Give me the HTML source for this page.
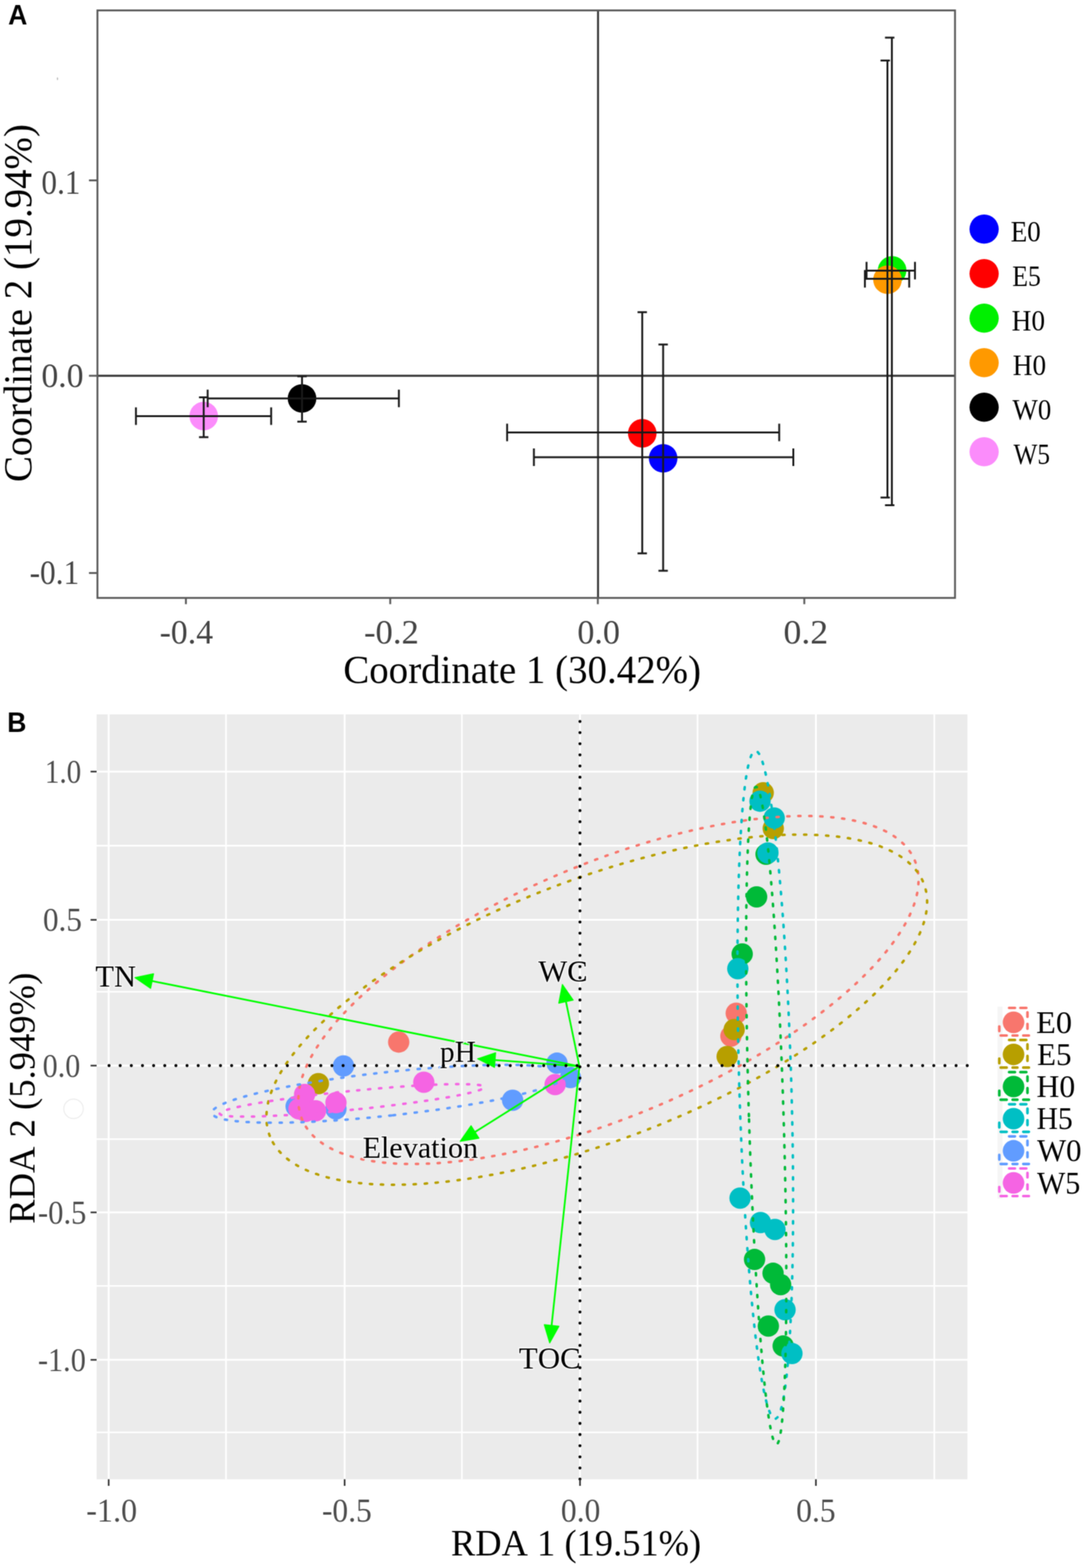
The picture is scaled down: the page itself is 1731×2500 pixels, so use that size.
<!DOCTYPE html>
<html><head><meta charset="utf-8"><title>Figure</title>
<style>html,body{margin:0;padding:0;background:#fff;overflow:hidden}svg text{font-kerning:none}</style>
</head><body>
<svg width="1731" height="2500" viewBox="0 0 1731 2500" style="display:block">
<defs><filter id="soft" x="0" y="0" width="1" height="1" color-interpolation-filters="sRGB"><feConvolveMatrix order="3" kernelMatrix="1 2 1 2 6 2 1 2 1" divisor="18" edgeMode="duplicate"/></filter></defs>
<g filter="url(#soft)">
<rect width="1731" height="2500" fill="#fff"/>
<line x1="953.2" y1="16.6" x2="953.2" y2="953.3" stroke="#333" stroke-width="3.1"/>
<line x1="155.3" y1="599.1" x2="1522.2" y2="599.1" stroke="#333" stroke-width="3.1"/>
<circle cx="324.7" cy="663.4" r="22.8" fill="#fb8cfb"/>
<circle cx="481.4" cy="635.2" r="22.8" fill="#000000"/>
<circle cx="1023.7" cy="690.9" r="22.8" fill="#ff0000"/>
<circle cx="1057.0" cy="730.7" r="22.8" fill="#0000ff"/>
<circle cx="1422.0" cy="431.0" r="22.8" fill="#00f000"/>
<circle cx="1414.6" cy="446.0" r="22.8" fill="#ff9900"/>
<path d="M216.7 663.4H432.2M216.7 649.4V677.4M432.2 649.4V677.4" stroke="#1a1a1a" stroke-width="3.0" fill="none"/>
<path d="M324.7 633.6V696.9M317.2 633.6H332.2M317.2 696.9H332.2" stroke="#1a1a1a" stroke-width="3.0" fill="none"/>
<path d="M331.0 635.2H635.8M331.0 621.2V649.2M635.8 621.2V649.2" stroke="#1a1a1a" stroke-width="3.0" fill="none"/>
<path d="M481.4 600.1V672.2M473.9 600.1H488.9M473.9 672.2H488.9" stroke="#1a1a1a" stroke-width="3.0" fill="none"/>
<path d="M808.3 689.5H1242.0M808.3 675.5V703.5M1242.0 675.5V703.5" stroke="#1a1a1a" stroke-width="3.0" fill="none"/>
<path d="M1023.7 497.7V882.2M1016.2 497.7H1031.2M1016.2 882.2H1031.2" stroke="#1a1a1a" stroke-width="3.0" fill="none"/>
<path d="M851.0 729.0H1264.5M851.0 715.0V743.0M1264.5 715.0V743.0" stroke="#1a1a1a" stroke-width="3.0" fill="none"/>
<path d="M1057.0 549.2V909.9M1049.5 549.2H1064.5M1049.5 909.9H1064.5" stroke="#1a1a1a" stroke-width="3.0" fill="none"/>
<path d="M1381.2 431.5H1458.4M1381.2 417.5V445.5M1458.4 417.5V445.5" stroke="#1a1a1a" stroke-width="3.0" fill="none"/>
<path d="M1421.6 60.0V805.4M1410.6 60.0H1425.6M1410.6 805.4H1425.6" stroke="#1a1a1a" stroke-width="3.0" fill="none"/>
<path d="M1378.6 444.5H1449.2M1378.6 430.5V458.5M1449.2 430.5V458.5" stroke="#1a1a1a" stroke-width="3.0" fill="none"/>
<path d="M1414.5 96.4V793.2M1403.5 96.4H1418.5M1403.5 793.2H1418.5" stroke="#1a1a1a" stroke-width="3.0" fill="none"/>
<rect x="155.3" y="16.6" width="1366.9" height="936.6999999999999" fill="none" stroke="#5a5a5a" stroke-width="3"/>
<line x1="141.8" y1="287.6" x2="155.3" y2="287.6" stroke="#5a5a5a" stroke-width="3"/>
<line x1="141.8" y1="599.1" x2="155.3" y2="599.1" stroke="#5a5a5a" stroke-width="3"/>
<line x1="141.8" y1="913.6" x2="155.3" y2="913.6" stroke="#5a5a5a" stroke-width="3"/>
<line x1="296.3" y1="953.3" x2="296.3" y2="963.3" stroke="#5a5a5a" stroke-width="3"/>
<line x1="622.0" y1="953.3" x2="622.0" y2="963.3" stroke="#5a5a5a" stroke-width="3"/>
<line x1="952.9" y1="953.3" x2="952.9" y2="963.3" stroke="#5a5a5a" stroke-width="3"/>
<line x1="1282.0" y1="953.3" x2="1282.0" y2="963.3" stroke="#5a5a5a" stroke-width="3"/>
<text x="66.11" y="308.50" font-family="Liberation Serif" font-weight="normal" font-size="55.5" textLength="62.07" lengthAdjust="spacingAndGlyphs" fill="#444" >0.1</text>
<text x="65.95" y="617.00" font-family="Liberation Serif" font-weight="normal" font-size="55.5" textLength="67.30" lengthAdjust="spacingAndGlyphs" fill="#444" >0.0</text>
<text x="47.15" y="931.00" font-family="Liberation Serif" font-weight="normal" font-size="55.5" textLength="79.05" lengthAdjust="spacingAndGlyphs" fill="#444" >-0.1</text>
<text x="254.40" y="1025.80" font-family="Liberation Serif" font-weight="normal" font-size="55.5" textLength="85.14" lengthAdjust="spacingAndGlyphs" fill="#444" >-0.4</text>
<text x="580.15" y="1025.80" font-family="Liberation Serif" font-weight="normal" font-size="55.5" textLength="87.39" lengthAdjust="spacingAndGlyphs" fill="#444" >-0.2</text>
<text x="920.13" y="1025.80" font-family="Liberation Serif" font-weight="normal" font-size="55.5" textLength="68.05" lengthAdjust="spacingAndGlyphs" fill="#444" >0.0</text>
<text x="1248.83" y="1025.80" font-family="Liberation Serif" font-weight="normal" font-size="55.5" textLength="71.32" lengthAdjust="spacingAndGlyphs" fill="#444" >0.2</text>
<text x="547.26" y="1089.30" font-family="Liberation Serif" font-weight="normal" font-size="63.5" textLength="570.07" lengthAdjust="spacingAndGlyphs" fill="#000" >Coordinate 1 (30.42%)</text>
<text transform="rotate(-90)" x="-768.55" y="50.00" font-family="Liberation Serif" font-weight="normal" font-size="63.5" textLength="570.78" lengthAdjust="spacingAndGlyphs" fill="#000" >Coordinate 2 (19.94%)</text>
<circle cx="1568.6" cy="365.3" r="23.3" fill="#0000ff"/>
<text x="1610.96" y="384.60" font-family="Liberation Serif" font-weight="normal" font-size="47" textLength="47.99" lengthAdjust="spacingAndGlyphs" fill="#000" >E0</text>
<circle cx="1568.6" cy="436.3" r="23.3" fill="#ff0000"/>
<text x="1613.52" y="455.60" font-family="Liberation Serif" font-weight="normal" font-size="47" textLength="45.59" lengthAdjust="spacingAndGlyphs" fill="#000" >E5</text>
<circle cx="1568.6" cy="507.3" r="23.3" fill="#00f000"/>
<text x="1612.55" y="526.60" font-family="Liberation Serif" font-weight="normal" font-size="47" textLength="53.11" lengthAdjust="spacingAndGlyphs" fill="#000" >H0</text>
<circle cx="1568.6" cy="578.3" r="23.3" fill="#ff9900"/>
<text x="1614.35" y="597.60" font-family="Liberation Serif" font-weight="normal" font-size="47" textLength="53.00" lengthAdjust="spacingAndGlyphs" fill="#000" >H0</text>
<circle cx="1568.6" cy="649.3" r="23.3" fill="#000000"/>
<text x="1613.76" y="668.60" font-family="Liberation Serif" font-weight="normal" font-size="47" textLength="61.87" lengthAdjust="spacingAndGlyphs" fill="#000" >W0</text>
<circle cx="1568.6" cy="720.3" r="23.3" fill="#fb8cfb"/>
<text x="1615.56" y="739.60" font-family="Liberation Serif" font-weight="normal" font-size="47" textLength="58.11" lengthAdjust="spacingAndGlyphs" fill="#000" >W5</text>
<text x="12.95" y="39.10" font-family="Liberation Sans" font-weight="bold" font-size="43.5" textLength="30.57" lengthAdjust="spacingAndGlyphs" fill="#000" >A</text>
<rect x="154.0" y="1139.0" width="1388.0" height="1219.5" fill="#ebebeb"/>
<line x1="360.2" y1="1139.0" x2="360.2" y2="2358.5" stroke="#fff" stroke-width="2.6"/>
<line x1="736.2" y1="1139.0" x2="736.2" y2="2358.5" stroke="#fff" stroke-width="2.6"/>
<line x1="1111.8" y1="1139.0" x2="1111.8" y2="2358.5" stroke="#fff" stroke-width="2.6"/>
<line x1="1489.2" y1="1139.0" x2="1489.2" y2="2358.5" stroke="#fff" stroke-width="2.6"/>
<line x1="154.0" y1="1348.4" x2="1542.0" y2="1348.4" stroke="#fff" stroke-width="2.6"/>
<line x1="154.0" y1="1581.2" x2="1542.0" y2="1581.2" stroke="#fff" stroke-width="2.6"/>
<line x1="154.0" y1="1816.3" x2="1542.0" y2="1816.3" stroke="#fff" stroke-width="2.6"/>
<line x1="154.0" y1="2050.3" x2="1542.0" y2="2050.3" stroke="#fff" stroke-width="2.6"/>
<line x1="154.0" y1="2283.8" x2="1542.0" y2="2283.8" stroke="#fff" stroke-width="2.6"/>
<line x1="173.2" y1="1139.0" x2="173.2" y2="2358.5" stroke="#fff" stroke-width="3.0"/>
<line x1="549.3" y1="1139.0" x2="549.3" y2="2358.5" stroke="#fff" stroke-width="3.0"/>
<line x1="924.5" y1="1139.0" x2="924.5" y2="2358.5" stroke="#fff" stroke-width="3.0"/>
<line x1="1300.5" y1="1139.0" x2="1300.5" y2="2358.5" stroke="#fff" stroke-width="3.0"/>
<line x1="154.0" y1="1230.2" x2="1542.0" y2="1230.2" stroke="#fff" stroke-width="3.0"/>
<line x1="154.0" y1="1466.6" x2="1542.0" y2="1466.6" stroke="#fff" stroke-width="3.0"/>
<line x1="154.0" y1="1699.0" x2="1542.0" y2="1699.0" stroke="#fff" stroke-width="3.0"/>
<line x1="154.0" y1="1933.0" x2="1542.0" y2="1933.0" stroke="#fff" stroke-width="3.0"/>
<line x1="154.0" y1="2168.1" x2="1542.0" y2="2168.1" stroke="#fff" stroke-width="3.0"/>
<circle cx="635.5" cy="1661.4" r="17.0" fill="#f8766d"/>
<circle cx="1165.0" cy="1652.0" r="17.0" fill="#f8766d"/>
<circle cx="1173.5" cy="1615.5" r="17.0" fill="#f8766d"/>
<circle cx="1216.5" cy="1264.0" r="17.0" fill="#b79f00"/>
<circle cx="1232.5" cy="1321.0" r="17.0" fill="#b79f00"/>
<circle cx="1170.2" cy="1641.5" r="17.0" fill="#b79f00"/>
<circle cx="1159.0" cy="1684.5" r="17.0" fill="#b79f00"/>
<circle cx="507.5" cy="1727.8" r="17.0" fill="#b79f00"/>
<circle cx="1221.0" cy="1362.0" r="17.0" fill="#00ba38"/>
<circle cx="1206.0" cy="1430.0" r="17.0" fill="#00ba38"/>
<circle cx="1183.0" cy="1521.0" r="17.0" fill="#00ba38"/>
<circle cx="1202.7" cy="2008.1" r="17.0" fill="#00ba38"/>
<circle cx="1232.2" cy="2030.1" r="17.0" fill="#00ba38"/>
<circle cx="1244.3" cy="2048.2" r="17.0" fill="#00ba38"/>
<circle cx="1224.7" cy="2114.3" r="17.0" fill="#00ba38"/>
<circle cx="1248.3" cy="2146.1" r="17.0" fill="#00ba38"/>
<circle cx="1211.4" cy="1277.4" r="17.0" fill="#00bfc4"/>
<circle cx="1234.0" cy="1304.3" r="17.0" fill="#00bfc4"/>
<circle cx="1224.0" cy="1360.0" r="17.0" fill="#00bfc4"/>
<circle cx="1176.0" cy="1544.5" r="17.0" fill="#00bfc4"/>
<circle cx="1179.6" cy="1910.2" r="17.0" fill="#00bfc4"/>
<circle cx="1212.2" cy="1949.3" r="17.0" fill="#00bfc4"/>
<circle cx="1235.2" cy="1960.3" r="17.0" fill="#00bfc4"/>
<circle cx="1251.3" cy="2088.3" r="17.0" fill="#00bfc4"/>
<circle cx="1262.3" cy="2158.1" r="17.0" fill="#00bfc4"/>
<circle cx="547.5" cy="1699.5" r="17.0" fill="#619cff"/>
<circle cx="472.0" cy="1764.0" r="17.0" fill="#619cff"/>
<circle cx="535.5" cy="1768.0" r="17.0" fill="#619cff"/>
<circle cx="817.1" cy="1754.2" r="17.0" fill="#619cff"/>
<circle cx="887.8" cy="1695.1" r="17.0" fill="#619cff"/>
<circle cx="909.3" cy="1718.1" r="17.0" fill="#619cff"/>
<circle cx="675.5" cy="1725.5" r="17.0" fill="#f564e3"/>
<circle cx="485.5" cy="1745.0" r="17.0" fill="#f564e3"/>
<circle cx="476.5" cy="1768.0" r="17.0" fill="#f564e3"/>
<circle cx="487.0" cy="1772.0" r="17.0" fill="#f564e3"/>
<circle cx="503.0" cy="1771.0" r="17.0" fill="#f564e3"/>
<circle cx="535.5" cy="1758.0" r="17.0" fill="#f564e3"/>
<circle cx="884.8" cy="1729.2" r="17.0" fill="#f564e3"/>
<ellipse cx="969.8" cy="1578.4" rx="530.1" ry="200.6" transform="rotate(157.01 969.8 1578.4)" stroke="#f8766d" fill="none" stroke-width="4" stroke-linecap="round" stroke-dasharray="3.6 13.9"/>
<ellipse cx="951.2" cy="1609.8" rx="558.7" ry="207.5" transform="rotate(158.90 951.2 1609.8)" stroke="#b79f00" fill="none" stroke-width="4" stroke-linecap="round" stroke-dasharray="3.6 13.9"/>
<ellipse cx="1219.8" cy="1729.6" rx="41.5" ry="532.7" transform="rotate(178.31 1219.8 1729.6)" stroke="#00bfc4" fill="none" stroke-width="4" stroke-linecap="round" stroke-dasharray="3.6 13.9"/>
<ellipse cx="1221.3" cy="1778.7" rx="27.6" ry="524.5" transform="rotate(178.22 1221.3 1778.7)" stroke="#00ba38" fill="none" stroke-width="4" stroke-linecap="round" stroke-dasharray="3.6 13.9"/>
<ellipse cx="620.2" cy="1743.9" rx="34.7" ry="284.0" transform="rotate(83.81 620.2 1743.9)" stroke="#619cff" fill="none" stroke-width="4" stroke-linecap="round" stroke-dasharray="3.6 13.9"/>
<ellipse cx="560.9" cy="1754.4" rx="15.0" ry="211.8" transform="rotate(84.26 560.9 1754.4)" stroke="#f564e3" fill="none" stroke-width="4" stroke-linecap="round" stroke-dasharray="3.6 13.9"/>
<line x1="923.6" y1="1700.2" x2="242.5" y2="1564.2" stroke="#00ff00" stroke-width="2.8"/>
<polygon points="215.0,1558.7 244.8,1552.6 240.1,1575.8" fill="#00ff00" stroke="#00ff00" stroke-width="1.5" stroke-linejoin="round"/>
<line x1="923.6" y1="1700.2" x2="789.1" y2="1690.2" stroke="#00ff00" stroke-width="2.8"/>
<polygon points="761.2,1688.1 790.0,1678.4 788.2,1701.9" fill="#00ff00" stroke="#00ff00" stroke-width="1.5" stroke-linejoin="round"/>
<line x1="923.6" y1="1700.2" x2="902.1" y2="1597.0" stroke="#00ff00" stroke-width="2.8"/>
<polygon points="896.4,1569.6 913.7,1594.6 890.6,1599.4" fill="#00ff00" stroke="#00ff00" stroke-width="1.5" stroke-linejoin="round"/>
<line x1="923.6" y1="1700.2" x2="757.2" y2="1804.8" stroke="#00ff00" stroke-width="2.8"/>
<polygon points="733.5,1819.7 750.9,1794.8 763.5,1814.8" fill="#00ff00" stroke="#00ff00" stroke-width="1.5" stroke-linejoin="round"/>
<line x1="923.6" y1="1700.2" x2="879.2" y2="2113.4" stroke="#00ff00" stroke-width="2.8"/>
<polygon points="876.2,2141.2 867.5,2112.1 890.9,2114.6" fill="#00ff00" stroke="#00ff00" stroke-width="1.5" stroke-linejoin="round"/>
<text x="152.12" y="1573.30" font-family="Liberation Serif" font-weight="normal" font-size="49.5" textLength="64.79" lengthAdjust="spacingAndGlyphs" fill="#000" stroke="#ffffff" stroke-width="3.5" stroke-opacity="0.75" stroke-linejoin="round" paint-order="stroke">TN</text>
<text x="701.24" y="1693.10" font-family="Liberation Serif" font-weight="normal" font-size="49.5" textLength="57.33" lengthAdjust="spacingAndGlyphs" fill="#000" stroke="#ffffff" stroke-width="3.5" stroke-opacity="0.75" stroke-linejoin="round" paint-order="stroke">pH</text>
<text x="857.95" y="1565.10" font-family="Liberation Serif" font-weight="normal" font-size="49.5" textLength="78.74" lengthAdjust="spacingAndGlyphs" fill="#000" stroke="#ffffff" stroke-width="3.5" stroke-opacity="0.75" stroke-linejoin="round" paint-order="stroke">WC</text>
<text x="577.92" y="1846.20" font-family="Liberation Serif" font-weight="normal" font-size="49.5" textLength="184.01" lengthAdjust="spacingAndGlyphs" fill="#000" stroke="#ffffff" stroke-width="3.5" stroke-opacity="0.75" stroke-linejoin="round" paint-order="stroke">Elevation</text>
<text x="827.11" y="2181.80" font-family="Liberation Serif" font-weight="normal" font-size="49.5" textLength="98.40" lengthAdjust="spacingAndGlyphs" fill="#000" stroke="#ffffff" stroke-width="3.5" stroke-opacity="0.75" stroke-linejoin="round" paint-order="stroke">TOC</text>
<line x1="173.8" y1="1699.0" x2="1542.0" y2="1699.0" stroke="#000" stroke-width="4.8" stroke-linecap="round" stroke-dasharray="0 17.765"/>
<line x1="924.4" y1="1150.3" x2="924.4" y2="2358.5" stroke="#000" stroke-width="4.8" stroke-linecap="round" stroke-dasharray="0 17.765"/>
<line x1="144.4" y1="1230.2" x2="154.0" y2="1230.2" stroke="#333" stroke-width="2.6"/>
<line x1="144.4" y1="1466.6" x2="154.0" y2="1466.6" stroke="#333" stroke-width="2.6"/>
<line x1="144.4" y1="1699.0" x2="154.0" y2="1699.0" stroke="#333" stroke-width="2.6"/>
<line x1="144.4" y1="1933.0" x2="154.0" y2="1933.0" stroke="#333" stroke-width="2.6"/>
<line x1="144.4" y1="2168.1" x2="154.0" y2="2168.1" stroke="#333" stroke-width="2.6"/>
<line x1="173.2" y1="2358.5" x2="173.2" y2="2369.0" stroke="#333" stroke-width="2.6"/>
<line x1="549.3" y1="2358.5" x2="549.3" y2="2369.0" stroke="#333" stroke-width="2.6"/>
<line x1="924.5" y1="2358.5" x2="924.5" y2="2369.0" stroke="#333" stroke-width="2.6"/>
<line x1="1300.5" y1="2358.5" x2="1300.5" y2="2369.0" stroke="#333" stroke-width="2.6"/>
<text x="71.53" y="1247.70" font-family="Liberation Serif" font-weight="normal" font-size="53.0" textLength="57.94" lengthAdjust="spacingAndGlyphs" fill="#4d4d4d" >1.0</text>
<text x="68.41" y="1484.10" font-family="Liberation Serif" font-weight="normal" font-size="53.0" textLength="62.13" lengthAdjust="spacingAndGlyphs" fill="#4d4d4d" >0.5</text>
<text x="67.98" y="1716.50" font-family="Liberation Serif" font-weight="normal" font-size="53.0" textLength="59.85" lengthAdjust="spacingAndGlyphs" fill="#4d4d4d" >0.0</text>
<text x="60.59" y="1950.50" font-family="Liberation Serif" font-weight="normal" font-size="53.0" textLength="77.11" lengthAdjust="spacingAndGlyphs" fill="#4d4d4d" >-0.5</text>
<text x="60.41" y="2185.60" font-family="Liberation Serif" font-weight="normal" font-size="53.0" textLength="76.43" lengthAdjust="spacingAndGlyphs" fill="#4d4d4d" >-1.0</text>
<text x="137.60" y="2425.50" font-family="Liberation Serif" font-weight="normal" font-size="53.0" textLength="80.84" lengthAdjust="spacingAndGlyphs" fill="#4d4d4d" >-1.0</text>
<text x="513.14" y="2425.50" font-family="Liberation Serif" font-weight="normal" font-size="53.0" textLength="79.42" lengthAdjust="spacingAndGlyphs" fill="#4d4d4d" >-0.5</text>
<text x="894.09" y="2425.50" font-family="Liberation Serif" font-weight="normal" font-size="53.0" textLength="62.83" lengthAdjust="spacingAndGlyphs" fill="#4d4d4d" >0.0</text>
<text x="1269.08" y="2425.50" font-family="Liberation Serif" font-weight="normal" font-size="53.0" textLength="62.88" lengthAdjust="spacingAndGlyphs" fill="#4d4d4d" >0.5</text>
<text x="718.83" y="2479.50" font-family="Liberation Serif" font-weight="normal" font-size="60.0" textLength="398.73" lengthAdjust="spacingAndGlyphs" fill="#000" >RDA 1 (19.51%)</text>
<text transform="rotate(-90)" x="-1951.18" y="55.30" font-family="Liberation Serif" font-weight="normal" font-size="59.0" textLength="400.24" lengthAdjust="spacingAndGlyphs" fill="#000" >RDA 2 (5.949%)</text>
<rect x="1590" y="1605" width="8" height="306" fill="#f5f5f5"/>
<circle cx="1615.5" cy="1630.0" r="17.2" fill="#f8766d"/>
<path d="M1608.4 1607.0L1617.8 1607.0M1626.4 1607.0L1635.9 1607.0M1637.7 1614.0L1637.7 1621.2M1637.7 1632.5L1637.7 1640.2M1592.8 1636.6L1592.8 1644.0M1595.0 1651.0L1604.6 1651.0M1614.0 1651.0L1621.7 1651.0M1631.0 1651.0L1640.0 1651.0" stroke="#f8766d" stroke-width="4.2" stroke-linecap="round" fill="none"/>
<text x="1651.52" y="1646.50" font-family="Liberation Serif" font-weight="normal" font-size="51.0" textLength="57.25" lengthAdjust="spacingAndGlyphs" fill="#000" >E0</text>
<circle cx="1615.5" cy="1681.2" r="17.2" fill="#b79f00"/>
<path d="M1608.4 1658.2L1617.8 1658.2M1626.4 1658.2L1635.9 1658.2M1637.7 1665.2L1637.7 1672.4M1637.7 1683.7L1637.7 1691.4M1592.8 1687.8L1592.8 1695.2M1595.0 1702.2L1604.6 1702.2M1614.0 1702.2L1621.7 1702.2M1631.0 1702.2L1640.0 1702.2" stroke="#b79f00" stroke-width="4.2" stroke-linecap="round" fill="none"/>
<text x="1653.08" y="1697.70" font-family="Liberation Serif" font-weight="normal" font-size="51.0" textLength="54.85" lengthAdjust="spacingAndGlyphs" fill="#000" >E5</text>
<circle cx="1615.5" cy="1732.4" r="17.2" fill="#00ba38"/>
<path d="M1608.4 1709.4L1617.8 1709.4M1626.4 1709.4L1635.9 1709.4M1637.7 1716.4L1637.7 1723.6M1637.7 1734.9L1637.7 1742.6M1592.8 1739.0L1592.8 1746.4M1595.0 1753.4L1604.6 1753.4M1614.0 1753.4L1621.7 1753.4M1631.0 1753.4L1640.0 1753.4" stroke="#00ba38" stroke-width="4.2" stroke-linecap="round" fill="none"/>
<text x="1652.04" y="1748.90" font-family="Liberation Serif" font-weight="normal" font-size="51.0" textLength="61.89" lengthAdjust="spacingAndGlyphs" fill="#000" >H0</text>
<circle cx="1615.5" cy="1783.6" r="17.2" fill="#00bfc4"/>
<path d="M1608.4 1760.6L1617.8 1760.6M1626.4 1760.6L1635.9 1760.6M1637.7 1767.6L1637.7 1774.8M1637.7 1786.1L1637.7 1793.8M1592.8 1790.2L1592.8 1797.6M1595.0 1804.6L1604.6 1804.6M1614.0 1804.6L1621.7 1804.6M1631.0 1804.6L1640.0 1804.6" stroke="#00bfc4" stroke-width="4.2" stroke-linecap="round" fill="none"/>
<text x="1652.14" y="1800.10" font-family="Liberation Serif" font-weight="normal" font-size="51.0" textLength="57.70" lengthAdjust="spacingAndGlyphs" fill="#000" >H5</text>
<circle cx="1615.5" cy="1834.8" r="17.2" fill="#619cff"/>
<path d="M1608.4 1811.8L1617.8 1811.8M1626.4 1811.8L1635.9 1811.8M1637.7 1818.8L1637.7 1826.0M1637.7 1837.3L1637.7 1845.0M1592.8 1841.4L1592.8 1848.8M1595.0 1855.8L1604.6 1855.8M1614.0 1855.8L1621.7 1855.8M1631.0 1855.8L1640.0 1855.8" stroke="#619cff" stroke-width="4.2" stroke-linecap="round" fill="none"/>
<text x="1652.95" y="1851.30" font-family="Liberation Serif" font-weight="normal" font-size="51.0" textLength="70.92" lengthAdjust="spacingAndGlyphs" fill="#000" >W0</text>
<circle cx="1615.5" cy="1886.0" r="17.2" fill="#f564e3"/>
<path d="M1608.4 1863.0L1617.8 1863.0M1626.4 1863.0L1635.9 1863.0M1637.7 1870.0L1637.7 1877.2M1637.7 1888.5L1637.7 1896.2M1592.8 1892.6L1592.8 1900.0M1595.0 1907.0L1604.6 1907.0M1614.0 1907.0L1621.7 1907.0M1631.0 1907.0L1640.0 1907.0" stroke="#f564e3" stroke-width="4.2" stroke-linecap="round" fill="none"/>
<text x="1652.95" y="1902.50" font-family="Liberation Serif" font-weight="normal" font-size="51.0" textLength="68.91" lengthAdjust="spacingAndGlyphs" fill="#000" >W5</text>
<text x="11.47" y="1167.40" font-family="Liberation Sans" font-weight="bold" font-size="43.5" textLength="30.55" lengthAdjust="spacingAndGlyphs" fill="#000" >B</text>
<ellipse cx="91.6" cy="125.6" rx="0.9" ry="2.4" fill="#b0b0b0"/>
<circle cx="117.2" cy="1767.9" r="15.5" fill="none" stroke="#ececec" stroke-width="1.6"/>
</g>
</svg>
</body></html>
